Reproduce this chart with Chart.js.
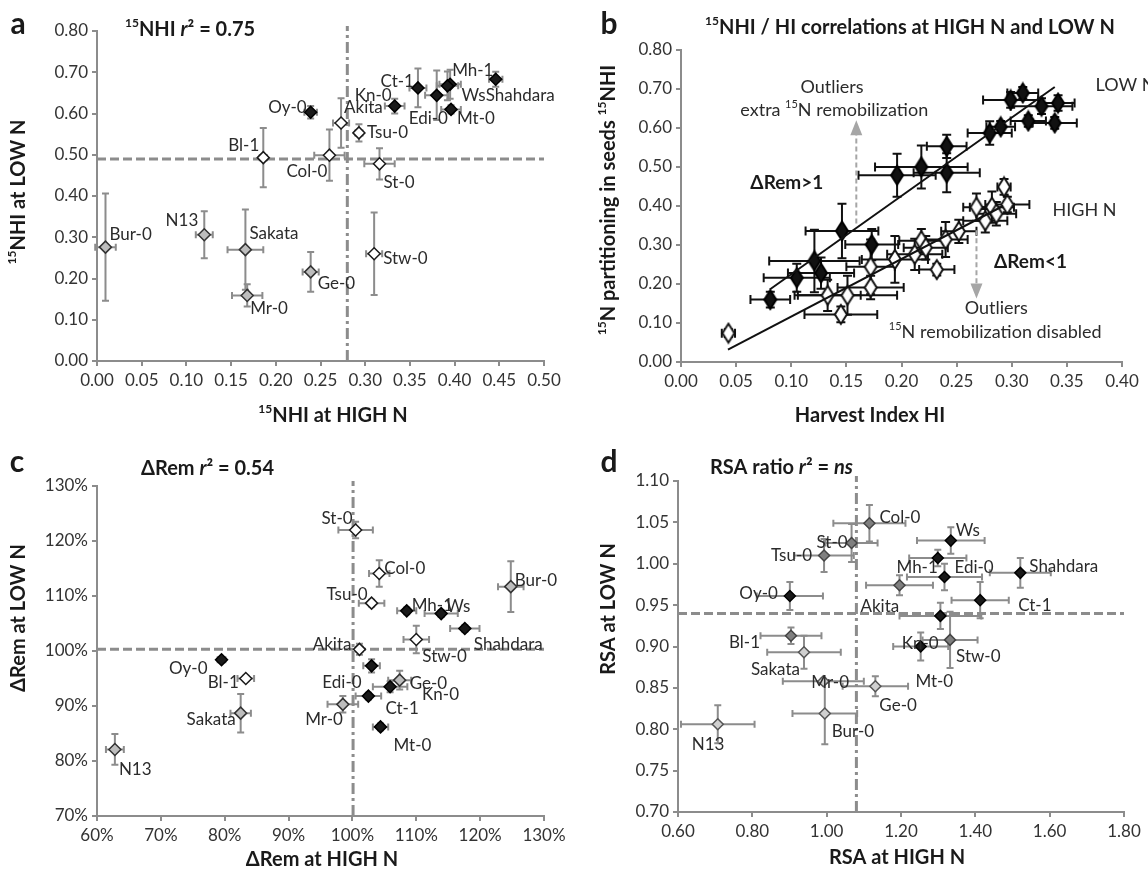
<!DOCTYPE html>
<html>
<head>
<meta charset="utf-8">
<script src="https://cdn.jsdelivr.net/npm/chart.js@4.4.0/dist/chart.umd.min.js"></script>
<style>
  body { margin: 0; background: #fff; }
  #wrap { position: relative; width: 1148px; height: 872px; }
  canvas { position: absolute; }
</style>
</head>
<body>
<div id="wrap">
  <canvas id="chartA" width="574" height="436" style="left:0;top:0"></canvas>
  <canvas id="chartB" width="574" height="436" style="left:574px;top:0"></canvas>
  <canvas id="chartC" width="574" height="436" style="left:0;top:436px"></canvas>
  <canvas id="chartD" width="574" height="436" style="left:574px;top:436px"></canvas>
</div>
<script>
// accessions and their colour class (g = low remobilisation, w = intermediate, b = high)
const accessions = ['Bur-0','N13','Sakata','Mr-0','Ge-0','Bl-1','Col-0','St-0','Akita','Tsu-0','Stw-0','Oy-0','Kn-0','Ct-1','Edi-0','Mh-1','Ws','Mt-0','Shahdara'];
const groups     = ['g','g','g','g','g','w','w','w','w','w','w','b','b','b','b','b','b','b','b'];

// panel a: 15NHI at HIGH N vs LOW N
const nhiHigh    = [0.0095,0.120,0.166,0.168,0.239,0.186,0.260,0.316,0.273,0.293,0.310,0.239,0.333,0.359,0.380,0.395,0.392,0.396,0.446];
const nhiLow     = [0.276,0.306,0.270,0.159,0.216,0.493,0.499,0.478,0.577,0.553,0.260,0.603,0.618,0.662,0.644,0.671,0.667,0.610,0.683];
const nhiHighErr = [0.0115,0.0095,0.020,0.017,0.009,0.004,0.017,0.017,0.009,0.004,0.009,0.007,0.011,0.0095,0.013,0.012,0.012,0.011,0.0075];
const nhiLowErr  = [0.130,0.057,0.097,0.027,0.048,0.072,0.062,0.038,0.060,0.021,0.100,0.015,0.018,0.047,0.060,0.035,0.035,0.010,0.018];
const nhiRef = {x: 0.28, y: 0.49};

// panel b: HI vs 15NHI, both N levels
const hiLowN      = [0.081,0.105,0.121,0.127,0.146,0.173,0.196,0.218,0.241,0.241,0.280,0.290,0.299,0.310,0.327,0.342,0.315,0.339];
const nhiLowN     = [0.160,0.216,0.259,0.228,0.336,0.301,0.479,0.500,0.485,0.553,0.587,0.603,0.672,0.690,0.656,0.664,0.618,0.613];
const hiLowNErr   = [0.018,0.030,0.041,0.030,0.033,0.024,0.035,0.042,0.030,0.018,0.020,0.013,0.025,0.014,0.028,0.015,0.016,0.020];
const nhiLowNErr  = [0.020,0.036,0.080,0.040,0.070,0.040,0.055,0.055,0.050,0.030,0.030,0.015,0.020,0.015,0.020,0.020,0.015,0.015];
const hiHighN     = [0.043,0.133,0.145,0.151,0.172,0.172,0.194,0.212,0.218,0.222,0.232,0.240,0.252,0.268,0.276,0.282,0.286,0.293,0.296];
const nhiHighN    = [0.074,0.171,0.122,0.171,0.244,0.191,0.263,0.276,0.311,0.293,0.237,0.314,0.335,0.397,0.362,0.397,0.380,0.449,0.404];
const hiHighNErr  = [0.006,0.030,0.033,0.045,0.022,0.030,0.030,0.025,0.020,0.020,0.016,0.020,0.016,0.012,0.020,0.020,0.018,0.006,0.020];
const nhiHighNErr = [0.010,0.040,0.020,0.050,0.070,0.030,0.060,0.040,0.030,0.030,0.015,0.045,0.030,0.035,0.030,0.040,0.030,0.020,0.020];
const fitLowX  = [0.0805, 0.339], fitLowY  = [0.186, 0.705];
const fitHighX = [0.0426, 0.292], fitHighY = [0.032, 0.400];

// panel c: delta Rem (%)
const remHigh    = [124.8,62.8,82.5,98.5,107.4,83.3,104.2,100.5,101.1,103.0,110.0,79.5,105.9,102.5,103.0,108.5,113.9,104.4,117.6];
const remLow     = [111.7,82.1,88.7,90.3,94.7,95.0,114.1,122.0,100.3,108.7,102.1,98.4,93.5,91.8,97.3,107.3,106.8,86.2,104.1];
const remHighErr = [2.0,1.4,1.6,2.4,1.8,1.3,1.6,2.7,0.5,2.0,2.0,0.6,2.7,2.0,1.3,1.5,2.6,1.2,2.3];
const remLowErr  = [4.6,2.8,3.5,1.5,1.7,0.5,2.4,1.5,1.0,0.6,2.5,0.4,1.0,0.6,1.2,0.6,0.6,0.6,0.6];
const remRef = {x: 100.1, y: 100.3};

// panel d: RSA ratio
const rsaHigh    = [0.995,0.707,0.939,0.991,1.131,0.904,1.115,1.067,1.196,0.993,1.332,0.901,1.253,1.413,1.317,1.299,1.334,1.306,1.521];
const rsaLow     = [0.819,0.806,0.893,0.858,0.852,0.913,1.049,1.025,0.974,1.010,0.908,0.961,0.900,0.956,0.984,1.007,1.028,0.937,0.989];
const rsaHighErr = [0.087,0.099,0.099,0.109,0.088,0.082,0.097,0.070,0.090,0.080,0.074,0.089,0.074,0.077,0.101,0.077,0.091,0.110,0.082];
const rsaLowErr  = [0.037,0.023,0.020,0.003,0.012,0.010,0.022,0.023,0.012,0.020,0.034,0.017,0.017,0.022,0.016,0.010,0.016,0.016,0.018];
const rsaRef = {x: 1.08, y: 0.94};

const FONT = 'Lato, "Liberation Sans", sans-serif';

// draws text with ^superscript^ and *italic* pieces
function richText(ctx, str, x, y, o) {
  const size = o.size || 17;
  const parts = [];
  str.split(/(\^[^^]*\^|\*[^*]*\*)/).forEach(s => {
    if (!s) return;
    if (s[0] === '^') parts.push({t: s.slice(1, -1), sup: true});
    else if (s[0] === '*') parts.push({t: s.slice(1, -1), it: true});
    else parts.push({t: s});
  });
  const font = p => (p.it ? 'italic ' : '') + (o.bold ? 'bold ' : '') + (p.sup ? Math.round(size * 0.62) : size) + 'px ' + FONT;
  ctx.save();
  let total = 0;
  parts.forEach(p => { ctx.font = font(p); p.w = ctx.measureText(p.t).width; total += p.w; });
  ctx.translate(x, y);
  if (o.rotate) ctx.rotate(o.rotate);
  let cx = o.align === 'center' ? -total / 2 : o.align === 'right' ? -total : 0;
  ctx.textAlign = 'left';
  ctx.textBaseline = 'middle';
  ctx.fillStyle = o.color || '#2b2b2b';
  parts.forEach(p => {
    ctx.font = font(p);
    ctx.fillText(p.t, cx, p.sup ? -size * 0.32 : 0);
    cx += p.w;
  });
  ctx.restore();
}

const errorBars = {
  id: 'errorBars',
  beforeDatasetsDraw(chart) {
    const ctx = chart.ctx, xs = chart.scales.x, ys = chart.scales.y;
    chart.data.datasets.forEach(ds => {
      if (!ds.xErr) return;
      ctx.save();
      ctx.strokeStyle = ds.errColor;
      ctx.lineWidth = ds.errWidth;
      const c = ds.errCap;
      ds.data.forEach((p, i) => {
        const px = xs.getPixelForValue(p.x), py = ys.getPixelForValue(p.y);
        const x0 = xs.getPixelForValue(p.x - ds.xErr[i]), x1 = xs.getPixelForValue(p.x + ds.xErr[i]);
        const y0 = ys.getPixelForValue(p.y - ds.yErr[i]), y1 = ys.getPixelForValue(p.y + ds.yErr[i]);
        ctx.beginPath();
        ctx.moveTo(x0, py); ctx.lineTo(x1, py);
        ctx.moveTo(x0, py - c); ctx.lineTo(x0, py + c);
        ctx.moveTo(x1, py - c); ctx.lineTo(x1, py + c);
        ctx.moveTo(px, y0); ctx.lineTo(px, y1);
        ctx.moveTo(px - c, y0); ctx.lineTo(px + c, y0);
        ctx.moveTo(px - c, y1); ctx.lineTo(px + c, y1);
        ctx.stroke();
      });
      ctx.restore();
    });
  }
};

function makeRefLines(ref) {
  return {
    id: 'refLines',
    beforeDatasetsDraw(chart) {
      const {ctx, chartArea: a, scales} = chart;
      const px = scales.x.getPixelForValue(ref.x), py = scales.y.getPixelForValue(ref.y);
      ctx.save();
      ctx.strokeStyle = '#8c8c8c';
      ctx.lineWidth = 3;
      ctx.setLineDash([9, 4]);
      ctx.beginPath(); ctx.moveTo(a.left, py); ctx.lineTo(a.right, py); ctx.stroke();
      ctx.setLineDash([11, 4, 3, 4]);
      ctx.beginPath(); ctx.moveTo(px, a.bottom); ctx.lineTo(px, a.top - 5); ctx.stroke();
      ctx.restore();
    }
  };
}

function makeTexts(items) {
  return {
    id: 'texts',
    afterDraw(chart) {
      items.forEach(t => {
        const x = t.data ? chart.scales.x.getPixelForValue(t.x) : t.x;
        const y = t.data ? chart.scales.y.getPixelForValue(t.y) : t.y;
        richText(chart.ctx, t.s, x, y, t);
      });
    }
  };
}

function makeLabels(pos) {
  const al = {l: 'left', r: 'right', c: 'center'};
  return {
    id: 'pointLabels',
    afterDatasetsDraw(chart) {
      chart.getDatasetMeta(0).data.forEach((el, i) => {
        const p = pos[accessions[i]];
        richText(chart.ctx, accessions[i], el.x + p[0], el.y + p[1], {size: 17, align: al[p[2]]});
      });
    }
  };
}

function makeArrows(list) {
  return {
    id: 'arrows',
    beforeDatasetsDraw(chart) {
      const ctx = chart.ctx, xs = chart.scales.x, ys = chart.scales.y;
      list.forEach(a => {
        const x = xs.getPixelForValue(a.x), y0 = ys.getPixelForValue(a.from), y1 = ys.getPixelForValue(a.to);
        const dir = y1 < y0 ? -1 : 1;
        ctx.save();
        ctx.strokeStyle = '#a6a6a6'; ctx.fillStyle = '#a6a6a6'; ctx.lineWidth = 2;
        ctx.setLineDash([5, 3]);
        ctx.beginPath(); ctx.moveTo(x, y0); ctx.lineTo(x, y1 - dir * 13); ctx.stroke();
        ctx.setLineDash([]);
        ctx.beginPath(); ctx.moveTo(x, y1); ctx.lineTo(x - 6, y1 - dir * 15); ctx.lineTo(x + 6, y1 - dir * 15); ctx.closePath(); ctx.fill();
        ctx.restore();
      });
    }
  };
}

function axis(min, max, step, fmt, size, horizontal) {
  return {
    type: 'linear', min: min, max: max,
    ticks: { stepSize: step, callback: fmt, color: '#333', font: {family: FONT, size: 17}, padding: 4, autoSkip: false, maxRotation: 0 },
    grid: { drawOnChartArea: false, drawTicks: true, tickLength: 5, color: '#8c8c8c', lineWidth: 2 },
    border: { color: '#8c8c8c', width: 2 },
    afterFit(s) { if (horizontal) s.height = size; else s.width = size; }
  };
}

function diamondImg(w, h, fill, stroke) {
  const c = document.createElement('canvas');
  c.width = w + 4; c.height = h + 4;
  const g = c.getContext('2d');
  const cx = c.width / 2, cy = c.height / 2;
  g.beginPath();
  g.moveTo(cx, cy - h / 2); g.lineTo(cx + w / 2, cy); g.lineTo(cx, cy + h / 2); g.lineTo(cx - w / 2, cy);
  g.closePath();
  g.fillStyle = fill; g.fill();
  g.lineWidth = 2; g.strokeStyle = stroke; g.stroke();
  return c;
}

const f2 = v => v.toFixed(2);
const pct = v => Math.round(v) + '%';
const TITLE = 20, AXT = 20;

function accessionPanel(id, o) {
  return new Chart(document.getElementById(id), {
    type: 'scatter',
    data: { datasets: [{
      data: accessions.map((n, i) => ({x: o.xs[i], y: o.ys[i]})),
      xErr: o.xErr, yErr: o.yErr, errColor: '#8c8c8c', errWidth: 2, errCap: 3.5,
      pointStyle: 'rectRot', pointRadius: o.radius, pointHoverRadius: o.radius,
      pointBackgroundColor: groups.map(g => o.fill[g]),
      pointBorderColor: groups.map(g => o.stroke[g]),
      pointBorderWidth: 1.5, clip: false
    }]},
    options: {
      responsive: false, animation: false,
      layout: { padding: o.pad },
      plugins: { legend: {display: false}, tooltip: {enabled: false} },
      scales: { x: o.x, y: o.y }
    },
    plugins: [errorBars, makeRefLines(o.ref), makeLabels(o.labels), makeTexts(o.texts)]
  });
}

// ---------- panel a ----------
accessionPanel('chartA', {
  xs: nhiHigh, ys: nhiLow, xErr: nhiHighErr, yErr: nhiLowErr, ref: nhiRef, radius: 6,
  fill: {g: '#bdbdbd', w: '#ffffff', b: '#1a1a1a'},
  stroke: {g: '#333', w: '#1a1a1a', b: '#000'},
  pad: {left: 0, right: 30, top: 31, bottom: 35},
  x: axis(0, 0.5, 0.05, f2, 40, true),
  y: axis(0, 0.8, 0.1, f2, 97, false),
  labels: {'Bur-0': [4,-13,'l'], 'N13': [-6,-14,'r'], 'Sakata': [4,-16,'l'], 'Mr-0': [3,13,'l'], 'Ge-0': [7,12,'l'],
    'Stw-0': [9,5,'l'], 'Bl-1': [-4,-12,'r'], 'Col-0': [-2,16,'r'], 'St-0': [4,19,'l'], 'Akita': [3,-15,'l'],
    'Tsu-0': [8,0,'l'], 'Oy-0': [-4,-5,'r'], 'Kn-0': [-3,-11,'r'], 'Ct-1': [-4,-6,'r'], 'Edi-0': [-28,23,'l'],
    'Mh-1': [2,-14,'l'], 'Ws': [14,10,'l'], 'Shahdara': [-10,16,'l'], 'Mt-0': [6,9,'l']},
  texts: [
    {s: 'a', x: 18, y: 24, size: 30, bold: true, align: 'center', color: '#1a1a1a'},
    {s: '^15^NHI *r*² = 0.75', x: 125, y: 30, size: TITLE, bold: true, align: 'left', color: '#1a1a1a'},
    {s: '^15^NHI at LOW N', x: 19, y: 192, size: AXT, bold: true, align: 'center', rotate: -Math.PI / 2, color: '#1a1a1a'},
    {s: '^15^NHI at HIGH N', x: 333, y: 416, size: AXT, bold: true, align: 'center', color: '#1a1a1a'}
  ]
});

// ---------- panel b ----------
new Chart(document.getElementById('chartB'), {
  type: 'scatter',
  data: { datasets: [
    { data: fitLowX.map((x, i) => ({x: x, y: fitLowY[i]})), showLine: true, pointRadius: 0, borderColor: '#111', borderWidth: 2, clip: false },
    { data: fitHighX.map((x, i) => ({x: x, y: fitHighY[i]})), showLine: true, pointRadius: 0, borderColor: '#111', borderWidth: 2, clip: false },
    { data: hiLowN.map((x, i) => ({x: x, y: nhiLowN[i]})), xErr: hiLowNErr, yErr: nhiLowNErr,
      errColor: '#111', errWidth: 2, errCap: 4.5,
      pointStyle: diamondImg(12, 19, '#111', '#000'), pointRadius: 8, clip: false },
    { data: hiHighN.map((x, i) => ({x: x, y: nhiHighN[i]})), xErr: hiHighNErr, yErr: nhiHighNErr,
      errColor: '#111', errWidth: 2, errCap: 4.5,
      pointStyle: diamondImg(12, 19, '#fff', '#111'), pointRadius: 8, clip: false }
  ]},
  options: {
    responsive: false, animation: false,
    layout: { padding: {left: 0, right: 26, top: 50, bottom: 34} },
    plugins: { legend: {display: false}, tooltip: {enabled: false} },
    scales: { x: axis(0, 0.4, 0.05, f2, 40, true), y: axis(0, 0.8, 0.1, f2, 107, false) }
  },
  plugins: [errorBars,
    makeArrows([{x: 0.159, from: 0.355, to: 0.62}, {x: 0.268, from: 0.338, to: 0.163}]),
    makeTexts([
      {s: 'b', x: 35, y: 24, size: 30, bold: true, align: 'center', color: '#1a1a1a'},
      {s: '^15^NHI / HI correlations at HIGH N and LOW N', x: 336, y: 28, size: TITLE, bold: true, align: 'center', color: '#1a1a1a'},
      {s: '^15^N partitioning in seeds ^15^NHI', x: 35, y: 200, size: AXT, bold: true, align: 'center', rotate: -Math.PI / 2, color: '#1a1a1a'},
      {s: 'Harvest Index HI', x: 296, y: 416, size: AXT, bold: true, align: 'center', color: '#1a1a1a'},
      {s: 'Outliers', data: true, x: 0.137, y: 0.705, align: 'center', size: 18},
      {s: 'extra ^15^N remobilization', data: true, x: 0.139, y: 0.646, align: 'center', size: 18},
      {s: 'ΔRem>1', data: true, x: 0.096, y: 0.459, align: 'center', bold: true, size: 19, color: '#1a1a1a'},
      {s: 'ΔRem<1', data: true, x: 0.317, y: 0.257, align: 'center', bold: true, size: 19, color: '#1a1a1a'},
      {s: 'HIGH N', data: true, x: 0.366, y: 0.389, align: 'center', size: 18},
      {s: 'LOW N', data: true, x: 0.376, y: 0.71, align: 'left', size: 18},
      {s: 'Outliers', data: true, x: 0.286, y: 0.137, align: 'center', size: 18},
      {s: '^15^N remobilization disabled', data: true, x: 0.285, y: 0.077, align: 'center', size: 18}
    ])]
});

// ---------- panel c ----------
accessionPanel('chartC', {
  xs: remHigh, ys: remLow, xErr: remHighErr, yErr: remLowErr, ref: remRef, radius: 6,
  fill: {g: '#bdbdbd', w: '#ffffff', b: '#1a1a1a'},
  stroke: {g: '#333', w: '#1a1a1a', b: '#000'},
  pad: {left: 0, right: 30, top: 50, bottom: 16},
  x: axis(60, 130, 10, pct, 40, true),
  y: axis(70, 130, 10, pct, 97, false),
  labels: {'N13': [4,20,'l'], 'Sakata': [-5,6,'r'], 'Bl-1': [-7,4,'r'], 'Oy-0': [-14,9,'r'], 'Mr-0': [0,15,'r'],
    'Edi-0': [-10,17,'r'], 'Ct-1': [17,12,'l'], 'Kn-0': [32,8,'l'], 'Ge-0': [10,3,'l'], 'Mt-0': [13,19,'l'],
    'Akita': [-8,-5,'r'], 'Stw-0': [6,17,'l'], 'Shahdara': [9,16,'l'], 'Mh-1': [5,-5,'l'], 'Ws': [5,-7,'l'],
    'Tsu-0': [-4,-9,'r'], 'Col-0': [5,-5,'l'], 'St-0': [-3,-11,'r'], 'Bur-0': [4,-6,'l']},
  texts: [
    {s: 'c', x: 17, y: 26, size: 30, bold: true, align: 'center', color: '#1a1a1a'},
    {s: 'ΔRem *r*² = 0.54', x: 141, y: 33, size: TITLE, bold: true, align: 'left', color: '#1a1a1a'},
    {s: 'ΔRem at LOW N', x: 19, y: 182, size: AXT, bold: true, align: 'center', rotate: -Math.PI / 2, color: '#1a1a1a'},
    {s: 'ΔRem at HIGH N', x: 322, y: 424, size: AXT, bold: true, align: 'center', color: '#1a1a1a'}
  ]
});

// ---------- panel d ----------
accessionPanel('chartD', {
  xs: rsaHigh, ys: rsaLow, xErr: rsaHighErr, yErr: rsaLowErr, ref: rsaRef, radius: 5.5,
  fill: {g: '#d0d0d0', w: '#7f7f7f', b: '#1a1a1a'},
  stroke: {g: '#555', w: '#444', b: '#000'},
  pad: {left: 0, right: 24, top: 45, bottom: 20},
  x: axis(0.6, 1.8, 0.2, f2, 40, true),
  y: axis(0.7, 1.1, 0.05, f2, 104, false),
  labels: {'N13': [-26,20,'l'], 'Bur-0': [7,18,'l'], 'Mr-0': [-12,1,'l'], 'Ge-0': [4,19,'l'], 'Sakata': [-4,17,'r'],
    'Bl-1': [-31,7,'r'], 'Oy-0': [-12,-3,'r'], 'Tsu-0': [-12,0,'r'], 'St-0': [-4,-1,'r'], 'Col-0': [10,-6,'l'],
    'Akita': [-39,21,'l'], 'Mh-1': [0,10,'r'], 'Ws': [5,-10,'l'], 'Edi-0': [10,-9,'l'], 'Shahdara': [9,-6,'l'],
    'Ct-1': [38,5,'l'], 'Mt-0': [-25,66,'l'], 'Kn-0': [-19,-3,'l'], 'Stw-0': [6,17,'l']},
  texts: [
    {s: 'd', x: 35, y: 26, size: 30, bold: true, align: 'center', color: '#1a1a1a'},
    {s: 'RSA ratio *r*² = *ns*', x: 136, y: 32, size: TITLE, bold: true, align: 'left', color: '#1a1a1a'},
    {s: 'RSA at LOW N', x: 35, y: 173, size: AXT, bold: true, align: 'center', rotate: -Math.PI / 2, color: '#1a1a1a'},
    {s: 'RSA at HIGH N', x: 323, y: 422, size: AXT, bold: true, align: 'center', color: '#1a1a1a'}
  ]
});
</script>
</body>
</html>
